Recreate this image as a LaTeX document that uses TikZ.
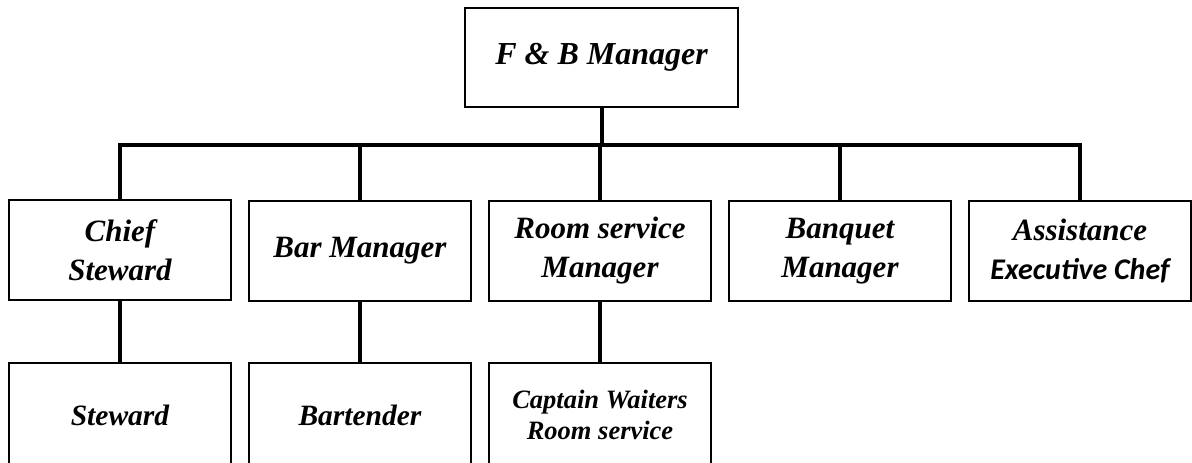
\documentclass[tikz,border=0pt]{standalone}
\usepackage{fontspec}
\setmainfont{Liberation Serif}
\newfontfamily\carlitofont{Carlito}
\begin{document}
\begin{tikzpicture}[x=1pt,y=-1pt,
  post/.style={draw=black, line width=2.8pt, fill=white, rectangle,
    minimum width=222pt, minimum height=100pt, inner sep=0pt,
    align=center, font=\fontsize{31}{39}\selectfont\bfseries\itshape},
  headpost/.style={post, minimum width=273pt, minimum height=99pt,
    font=\fontsize{32}{39}\selectfont\bfseries\itshape},
  lowpost/.style={post, minimum height=104pt,
    font=\fontsize{29.5}{39}\selectfont\bfseries\itshape},
  link/.style={line width=3.6pt}]
\useasboundingbox (0,0) rectangle (1192,463);
\clip (0,0) rectangle (1192,463);

% head of department
\node[headpost] (fb) at (601.5,57.5) {F \& B Manager};

% second level
\node[post] (chief)   at (120,250) {Chief\\Steward};
\node[post] (bar)     at (360,251) {Bar Manager};
\node[post] (room)    at (600,251) {Room service\\Manager};
\node[post] (banquet) at (840,251) {Banquet\\Manager};
\node[post] (chef)    at (1080,251) {Assistance\\{\carlitofont\fontsize{30}{39}\selectfont\bfseries\itshape Executive Chef}};

% third level
\node[lowpost] (steward)   at (120,415) {Steward};
\node[lowpost] (bartender) at (360,415) {Bartender};
\node[lowpost, font=\fontsize{26.5}{31}\selectfont\bfseries\itshape] (captain) at (600,415) {Captain Waiters\\Room service};

% distribution bar
\coordinate (bus) at (601,145);
\draw[link, line width=4pt] (fb.south) -- (fb.south |- bus);
\draw[link] ([xshift=-1.8pt]chief.north |- bus) -- ([xshift=1.8pt]chef.north |- bus);
\foreach \n in {chief,bar,room,banquet,chef}
  \draw[link] (\n.north |- bus) -- (\n.north);

% lower links
\draw[link] (chief.south) -- (steward.north);
\draw[link] (bar.south) -- (bartender.north);
\draw[link] (room.south) -- (captain.north);
\end{tikzpicture}
\end{document}
